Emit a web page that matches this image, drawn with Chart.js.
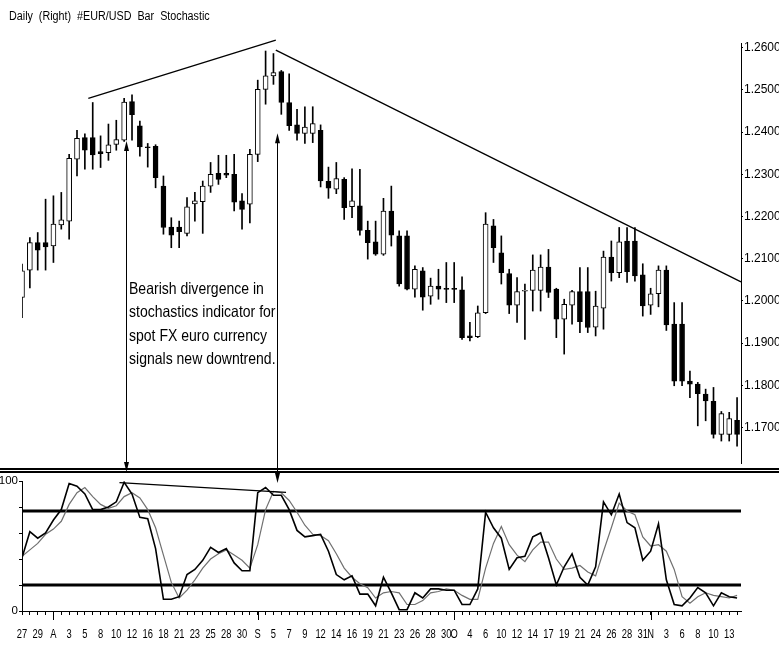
<!DOCTYPE html>
<html><head><meta charset="utf-8">
<script src="https://cdn.jsdelivr.net/npm/chart.js@4.4.1/dist/chart.umd.min.js"></script>
<style>
html,body{margin:0;padding:0;background:#fff;}
#wrap{position:relative;width:779px;height:646px;overflow:hidden;background:#fff;}
canvas{position:absolute;left:0;top:0;}
#title{position:absolute;left:9px;top:9px;font:12.5px 'Liberation Sans',Arial,sans-serif;white-space:pre;color:#000;transform:scaleX(0.86);transform-origin:0 0;}
#note{position:absolute;left:129px;top:277px;font:16.5px/23.3px 'Liberation Sans',Arial,sans-serif;color:#000;transform:scaleX(0.85);transform-origin:0 0;white-space:nowrap;}
#sep{position:absolute;left:0;top:468px;width:779px;height:1px;border-top:2px solid #000;border-bottom:2px solid #000;}
</style></head>
<body><div id="wrap">
<canvas id="cu" width="779" height="646" style="width:779px;height:646px"></canvas>
<div id="sep"></div>
<canvas id="cl" width="779" height="646" style="width:779px;height:646px"></canvas>
<div id="title">Daily  (Right)  #EUR/USD  Bar  Stochastic</div>
<div id="note">Bearish divergence in<br>stochastics indicator for<br>spot FX euro currency<br>signals new downtrend.</div>
</div>
<script>
// ---- data ----
const xTickLabels = ['27','','29','','A','','3','','5','','8','','10','','12','','16','','18','','21','','23','','25','','28','','30','','S','','5','','7','','9','','12','','14','','16','','19','','21','','23','','26','','28','','30','O','','4','','6','','10','','12','','14','','17','','19','','21','','24','','26','','28','','31','N','','3','','6','','8','','10','','13',''];
const priceTicks = [1.17,1.18,1.19,1.20,1.21,1.22,1.23,1.24,1.25,1.26];
const stochLabels = [0,50,100];
const openP  = [1.2008,1.2073,1.2138,1.2138,1.2130,1.2180,1.2189,1.2336,1.2387,1.2387,1.2354,1.2351,1.2371,1.2381,1.2472,1.2415,1.2365,1.2366,1.2272,1.2175,1.2175,1.2160,1.2230,1.2235,1.2272,1.2302,1.2302,1.2300,1.2237,1.2229,1.2347,1.2501,1.2533,1.2543,1.2470,1.2417,1.2397,1.2397,1.2404,1.2283,1.2265,1.2288,1.2223,1.2225,1.2167,1.2140,1.2111,1.2213,1.2154,1.2154,1.2028,1.2071,1.2011,1.2035,1.2030,1.2030,1.2026,1.1917,1.1915,1.1972,1.2178,1.2114,1.2065,1.1990,1.2023,1.2025,1.2025,1.2080,1.2028,1.1957,1.1990,1.2022,1.2022,1.1938,1.1983,1.2104,1.2067,1.2142,1.2142,1.2062,1.1990,1.2017,1.2073,1.1945,1.1945,1.1810,1.1803,1.1779,1.1762,1.1684,1.1684,1.1717];
const highP  = [1.2087,1.2150,1.2162,1.2241,1.2249,1.2257,1.2347,1.2404,1.2396,1.2470,1.2391,1.2419,1.2428,1.2480,1.2488,1.2426,1.2373,1.2370,1.2296,1.2197,1.2189,1.2245,1.2257,1.2284,1.2328,1.2345,1.2345,1.2347,1.2254,1.2359,1.2523,1.2592,1.2586,1.2546,1.2538,1.2454,1.2460,1.2460,1.2417,1.2317,1.2328,1.2292,1.2313,1.2312,1.2189,1.2189,1.2243,1.2272,1.2166,1.2166,1.2083,1.2079,1.2054,1.2075,1.2091,1.2091,1.2057,1.1949,1.1988,1.2209,1.2193,1.2154,1.2075,1.2055,1.2040,1.2109,1.2109,1.2122,1.2030,1.2004,1.2025,1.2079,1.2079,1.2023,1.2118,1.2142,1.2174,1.2174,1.2174,1.2088,1.2030,1.2083,1.2083,1.1996,1.1996,1.1834,1.1807,1.1791,1.1795,1.1738,1.1736,1.1771];
const lowP   = [1.1960,1.2031,1.2073,1.2073,1.2091,1.2170,1.2146,1.2296,1.2312,1.2312,1.2316,1.2333,1.2357,1.2378,1.2381,1.2343,1.2317,1.2268,1.2158,1.2126,1.2126,1.2154,1.2189,1.2160,1.2257,1.2276,1.2292,1.2213,1.2170,1.2185,1.2330,1.2466,1.2513,1.2442,1.2404,1.2381,1.2373,1.2375,1.2270,1.2243,1.2254,1.2193,1.2197,1.2156,1.2099,1.2108,1.2108,1.2130,1.2035,1.2026,1.2009,1.1978,1.1992,1.2004,1.1996,1.1996,1.1909,1.1905,1.1913,1.1970,1.2091,1.2040,1.1970,1.1949,1.1909,1.1976,1.1976,1.2008,1.1913,1.1874,1.1945,1.1925,1.1925,1.1917,1.1933,1.2047,1.2055,1.2044,1.2047,1.1964,1.1968,1.1986,1.1930,1.1799,1.1799,1.1771,1.1704,1.1716,1.1675,1.1668,1.1668,1.1656];
const closeP = [1.2071,1.2138,1.2120,1.2128,1.2182,1.2192,1.2338,1.2385,1.2357,1.2346,1.2349,1.2370,1.2382,1.2471,1.2441,1.2365,1.2363,1.2292,1.2174,1.2156,1.2164,1.2223,1.2237,1.2272,1.2300,1.2288,1.2298,1.2234,1.2217,1.2347,1.2501,1.2533,1.2541,1.2470,1.2415,1.2397,1.2412,1.2420,1.2284,1.2267,1.2290,1.2221,1.2237,1.2167,1.2138,1.2111,1.2213,1.2156,1.2040,1.2028,1.2075,1.2009,1.2035,1.2028,1.2027,1.2027,1.1913,1.1913,1.1972,1.2182,1.2126,1.2067,1.1990,1.2022,1.2025,1.2073,1.2080,1.2020,1.1957,1.1992,1.2022,1.1951,1.1937,1.1988,1.2104,1.2067,1.2140,1.2069,1.2059,1.1988,1.2017,1.2073,1.1943,1.1810,1.1810,1.1803,1.1780,1.1763,1.1684,1.1733,1.1721,1.1684];
const pctK = [41,61,56,60,70,78,98,96,90,78,78,80,84,99,90,72,71,48,9,9,11,28,32,39,49,45,48,37,31,31,91,95,89,89,78,62,57,58,59,46,28,24,27,13,13,4,26,14,1,1,14,10,17,17,16,16,5,5,17,76,64,56,32,41,42,57,60,41,20,34,44,26,20,34,84,74,90,68,64,39,46,67,24,5,4,10,18,14,4,14,11,10];
const pctD = [42,47,52,59,63,69,82,91,95,88,82,79,81,88,91,87,78,64,43,22,10,16,24,33,40,44,47,43,39,33,51,78,92,91,85,76,66,59,58,54,44,33,26,21,18,10,14,15,14,5,5,8,14,15,17,16,12,9,9,33,52,65,51,43,38,47,53,53,40,32,33,35,30,27,46,64,83,77,74,57,50,51,46,32,11,6,11,14,12,11,10,12];
const levels = [77, 20];
const trendLines = [
  {x1: 8.44, y1: 1.2480, x2: 32.3, y2: 1.2618},
  {x1: 32.3, y1: 1.2594, x2: 91.5, y2: 1.2045}
];
const divergenceLine = {x1: 12.4, y1: 98.7, x2: 33.6, y2: 91.3};
const arrows = [
  {x: 13.27, price: 1.2379, stoch: 107},
  {x: 32.5, price: 1.2397, stoch: 98.5}
];

// ---- helpers ----
const idx = closeP.map((_, i) => i);
const FONT_R = "'Liberation Sans', Arial, sans-serif";

const trendPlugin = {
  id: 'trend',
  afterDatasetsDraw(chart) {
    const {ctx, scales: {x, y}} = chart;
    ctx.save();
    ctx.strokeStyle = '#000'; ctx.lineWidth = 1.3;
    trendLines.forEach(t => {
      ctx.beginPath();
      ctx.moveTo(x.getPixelForValue(t.x1), y.getPixelForValue(t.y1));
      ctx.lineTo(x.getPixelForValue(t.x2), y.getPixelForValue(t.y2));
      ctx.stroke();
    });
    ctx.restore();
  }
};

const upper = new Chart(document.getElementById('cu'), {
  type: 'bar',
  data: {
    datasets: [
      { label: 'range', data: idx.map(i => ({x: i, y: [lowP[i], highP[i]]})), backgroundColor: '#000', borderWidth: 0, barThickness: 1, grouped: false, order: 2 },
      { label: 'body', data: idx.map(i => ({x: i, y: [openP[i], closeP[i]]})),
        backgroundColor: idx.map(i => closeP[i] >= openP[i] ? '#fff' : '#000'),
        borderColor: '#000', borderWidth: 1, borderSkipped: false, barThickness: 5, grouped: false, order: 1 }
    ]
  },
  options: {
    responsive: false, animation: false, devicePixelRatio: 1,
    layout: { padding: { left: 22, top: 43, right: 0, bottom: 183 } },
    plugins: { legend: { display: false }, tooltip: { enabled: false }, title: { display: false } },
    scales: {
      x: { type: 'linear', display: false, offset: false, min: 0, max: 91.5 },
      y: {
        position: 'right', min: 1.1616, max: 1.2611,
        afterBuildTicks: s => { s.ticks = priceTicks.map(v => ({ value: v })); },
        afterFit: s => { s.width = 38; },
        ticks: { callback: v => Number(v).toFixed(4), color: '#000', font: { family: FONT_R, size: 12 }, padding: 1 },
        grid: { drawOnChartArea: false, color: '#000', tickLength: 2 },
        border: { color: '#000', width: 1, dash: [1, 1] }
      }
    }
  },
  plugins: [trendPlugin]
});

const lowerPlugin = {
  id: 'lowerDecor',
  beforeDatasetsDraw(chart) {
    const {ctx, chartArea: a, scales: {y}} = chart;
    ctx.save();
    ctx.strokeStyle = '#000'; ctx.lineWidth = 3;
    levels.forEach(l => {
      const py = y.getPixelForValue(l);
      ctx.beginPath(); ctx.moveTo(a.left, py); ctx.lineTo(a.right, py); ctx.stroke();
    });
    ctx.restore();
  },
  afterDraw(chart) {
    const {ctx, scales: {x, y}} = chart;
    ctx.save();
    ctx.strokeStyle = '#000'; ctx.fillStyle = '#000'; ctx.lineWidth = 1;
    // month-start ticks and condensed day labels along the x scale
    ctx.font = "13px " + FONT_R;
    ctx.textAlign = 'center'; ctx.textBaseline = 'alphabetic';
    xTickLabels.forEach((t, i) => {
      const px = x.getPixelForValue(i);
      if (/^[A-Z]$/.test(t)) {
        const rx = Math.round(px) + 0.5;
        ctx.beginPath(); ctx.moveTo(rx, y.bottom); ctx.lineTo(rx, y.bottom + 9); ctx.stroke();
      }
      if (t) {
        ctx.save(); ctx.translate(px, y.bottom + 27); ctx.scale(0.72, 1); ctx.fillText(t, 0, 0); ctx.restore();
      }
    });
    // divergence line
    ctx.lineWidth = 1.2;
    ctx.beginPath();
    ctx.moveTo(x.getPixelForValue(divergenceLine.x1), y.getPixelForValue(divergenceLine.y1));
    ctx.lineTo(x.getPixelForValue(divergenceLine.x2), y.getPixelForValue(divergenceLine.y2));
    ctx.stroke();
    // arrows from the price panel down to the indicator panel
    ctx.lineWidth = 1;
    arrows.forEach(a => {
      const px = Math.round(upper.scales.x.getPixelForValue(a.x)) + 0.5;
      const top = upper.scales.y.getPixelForValue(a.price);
      const bot = y.getPixelForValue(a.stoch);
      ctx.beginPath(); ctx.moveTo(px, top + 4); ctx.lineTo(px, bot - 4); ctx.stroke();
      ctx.beginPath(); ctx.moveTo(px, top); ctx.lineTo(px - 2.5, top + 10); ctx.lineTo(px + 2.5, top + 10); ctx.closePath(); ctx.fill();
      ctx.beginPath(); ctx.moveTo(px, bot); ctx.lineTo(px - 2.5, bot - 10); ctx.lineTo(px + 2.5, bot - 10); ctx.closePath(); ctx.fill();
    });
    ctx.restore();
  }
};

const lower = new Chart(document.getElementById('cl'), {
  type: 'line',
  data: {
    datasets: [
      { label: '%D', data: idx.map(i => ({x: i, y: pctD[i]})), borderColor: '#707070', borderWidth: 1.2, pointRadius: 0, tension: 0, order: 2 },
      { label: '%K', data: idx.map(i => ({x: i, y: pctK[i]})), borderColor: '#000', borderWidth: 1.6, pointRadius: 0, tension: 0, order: 1 }
    ]
  },
  options: {
    responsive: false, animation: false, devicePixelRatio: 1,
    layout: { padding: { left: 0, top: 481, right: 38, bottom: 0 } },
    plugins: { legend: { display: false }, tooltip: { enabled: false } },
    scales: {
      x: {
        type: 'linear', min: 0, max: 91.5, offset: false,
        afterBuildTicks: s => { s.ticks = idx.map(v => ({ value: v })); },
        afterFit: s => { s.height = 35; },
        ticks: { autoSkip: false, maxRotation: 0, minRotation: 0, callback: () => '', font: { family: FONT_R, size: 11 } },
        grid: { drawOnChartArea: false, color: '#000', tickLength: 4 },
        border: { color: '#000', width: 1 }
      },
      y: {
        min: 0, max: 100,
        afterFit: s => { s.width = 22; },
        ticks: { stepSize: 10, callback: v => stochLabels.includes(v) ? String(v) : '', color: '#000', font: { family: FONT_R, size: 11.5 }, padding: 1 },
        grid: { drawOnChartArea: false, color: '#000', tickLength: 3 },
        border: { color: '#000', width: 1 }
      }
    }
  },
  plugins: [lowerPlugin]
});
</script>
</body></html>
